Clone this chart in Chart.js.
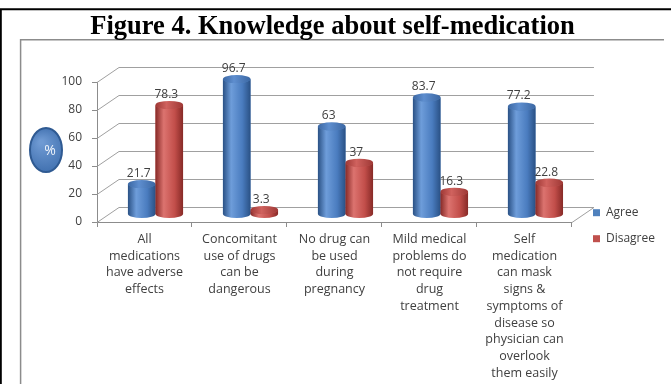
<!DOCTYPE html>
<html>
<head>
<meta charset="utf-8">
<script src="https://cdn.jsdelivr.net/npm/chart.js@4/dist/chart.umd.min.js"></script>
<style>
	html, body { margin: 0; padding: 0; background: #fff; }
	#wrap { width: 671px; height: 384px; }
</style>
</head>
<body>
<div id="wrap"><canvas id="knowledge" width="671" height="384"></canvas></div>
<script>
const categories = [
	['All', 'medications', 'have adverse', 'effects'],
	['Concomitant', 'use of drugs', 'can be', 'dangerous'],
	['No drug can', 'be used', 'during', 'pregnancy'],
	['Mild medical', 'problems do', 'not require', 'drug', 'treatment'],
	['Self', 'medication', 'can mask', 'signs &', 'symptoms of', 'disease so', 'physician can', 'overlook', 'them easily']
]
const agree = [21.7, 96.7, 63, 83.7, 77.2]
const disagree = [78.3, 3.3, 37, 16.3, 22.8]
const yTicks = [0, 20, 40, 60, 80, 100]
const seriesNames = ['Agree', 'Disagree']

// depth of the 3d box, bars stand half way in
const DX = 22, DY = -15
const FONT = 'Open Sans'

const palettes = [
	{ flat: '#4f81bd', dark: '#2a5185', light: '#6e9dda', mid: '#4a7cbf', cap: '#5e8ecf', rim: '#3b67a3' },
	{ flat: '#c0504d', dark: '#872a27', light: '#dc736f', mid: '#c24e4a', cap: '#d0625e', rim: '#9e3835' }
]

let drawFrame = ctx => {
	ctx.save()
	ctx.fillStyle = '#fff'
	ctx.fillRect(0, 0, 671, 384)
	ctx.strokeStyle = '#000'
	ctx.lineWidth = 2
	ctx.beginPath()
	ctx.moveTo(0, 9.3)
	ctx.lineTo(671, 9.3)
	ctx.moveTo(0.8, 9)
	ctx.lineTo(0.8, 384)
	ctx.stroke()
	ctx.strokeStyle = '#8c8c8c'
	ctx.lineWidth = 1.5
	ctx.beginPath()
	ctx.moveTo(20.6, 384)
	ctx.lineTo(20.6, 39.7)
	ctx.lineTo(664, 39.7)
	ctx.stroke()
	ctx.restore()
}

let drawPercent = ctx => {
	let cx = 46, cy = 150
	ctx.save()
	let g = ctx.createRadialGradient(cx - 5, cy - 8, 2, cx, cy, 24)
	g.addColorStop(0, '#6f9ad3')
	g.addColorStop(1, '#3f6fae')
	ctx.fillStyle = g
	ctx.strokeStyle = '#2f5a92'
	ctx.lineWidth = 2
	ctx.beginPath()
	ctx.ellipse(cx, cy, 16, 22, 0, 0, Math.PI * 2)
	ctx.fill()
	ctx.stroke()
	ctx.fillStyle = '#eef3fa'
	ctx.font = '14px "' + FONT + '"'
	ctx.textAlign = 'center'
	ctx.textBaseline = 'middle'
	ctx.fillText('%', cx + 4, cy + 1)
	ctx.restore()
}

let drawCylinder = (ctx, p, pal) => {
	let w = p.width, x0 = p.x - w / 2, x1 = p.x + w / 2, r = w / 2, ry = 4
	let g = ctx.createLinearGradient(x0, 0, x1, 0)
	g.addColorStop(0, pal.dark)
	g.addColorStop(0.3, pal.light)
	g.addColorStop(0.7, pal.mid)
	g.addColorStop(1, pal.dark)
	ctx.fillStyle = g
	ctx.beginPath()
	ctx.moveTo(x0, p.y)
	ctx.lineTo(x0, p.base)
	ctx.ellipse(p.x, p.base, r, ry, 0, Math.PI, 0, true)
	ctx.lineTo(x1, p.y)
	ctx.ellipse(p.x, p.y, r, ry, 0, 0, Math.PI, false)
	ctx.closePath()
	ctx.fill()
	// top face
	let t = ctx.createLinearGradient(x0, 0, x1, 0)
	t.addColorStop(0, pal.rim)
	t.addColorStop(0.4, pal.cap)
	t.addColorStop(1, pal.rim)
	ctx.fillStyle = t
	ctx.beginPath()
	ctx.ellipse(p.x, p.y, r, ry, 0, 0, Math.PI * 2)
	ctx.fill()
}

let box3d = {
	id: 'box3d',
	beforeDraw: chart => {
		drawFrame(chart.ctx)
		drawPercent(chart.ctx)
	},
	beforeDatasetsDraw: chart => {
		let { ctx, chartArea: a, scales: { y } } = chart
		ctx.save()
		ctx.strokeStyle = '#a0a0a0'
		ctx.lineWidth = 1
		yTicks.forEach(v => {
			let py = Math.round(y.getPixelForValue(v)) + 0.5
			ctx.beginPath()
			ctx.moveTo(a.left, py)
			ctx.lineTo(a.left + DX, py + DY)
			ctx.lineTo(a.right + DX, py + DY)
			if (v === 0) ctx.lineTo(a.right, py)
			ctx.stroke()
		})
		ctx.restore()
		ctx.save()
		ctx.translate(DX / 2, DY / 2)
	},
	afterDatasetsDraw: chart => {
		let ctx = chart.ctx
		let bars = []
		chart.data.datasets.forEach((ds, di) => {
			chart.getDatasetMeta(di).data.forEach((el, i) => {
				let p = el.getProps(['x', 'y', 'base', 'width'], true)
				drawCylinder(ctx, p, palettes[di])
				bars.push({ p, v: ds.data[i] })
			})
		})
		ctx.fillStyle = '#404040'
		ctx.font = '12px "' + FONT + '"'
		ctx.textAlign = 'center'
		ctx.textBaseline = 'middle'
		bars.forEach(b => ctx.fillText(String(b.v), b.p.x - 3, b.p.y - 10.5))
		ctx.restore()
	}
}

new Chart(document.getElementById('knowledge'), {
	type: 'bar',
	data: {
		labels: categories,
		datasets: [
			{ label: seriesNames[0], data: agree, backgroundColor: palettes[0].flat, borderWidth: 0, clip: false },
			{ label: seriesNames[1], data: disagree, backgroundColor: palettes[1].flat, borderWidth: 0, clip: false }
		]
	},
	options: {
		responsive: false,
		animation: false,
		events: [],
		categoryPercentage: 0.58,
		barPercentage: 1,
		layout: { padding: { left: 0, right: 6, top: 0, bottom: 0 } },
		scales: {
			x: {
				grid: { display: true, drawOnChartArea: false, tickLength: 5, color: '#8c8c8c' },
				border: { display: true, color: '#8c8c8c' },
				ticks: {
					maxRotation: 0, minRotation: 0, autoSkip: false, padding: 4,
					color: '#404040', font: { family: FONT, size: 12.5, lineHeight: 1.34 }
				},
				afterFit: s => { s.height = 162 }
			},
			y: {
				min: 0, max: 100,
				afterBuildTicks: s => { s.ticks = yTicks.map(v => ({ value: v })) },
				grid: { display: true, drawOnChartArea: false, tickLength: 5, color: '#8c8c8c' },
				border: { display: true, color: '#8c8c8c' },
				ticks: { padding: 10, color: '#404040', font: { family: FONT, size: 12 } },
				afterFit: s => { s.width = 97 }
			},
			gap: {
				type: 'linear', position: 'right', display: true,
				grid: { display: false }, border: { display: false }, ticks: { display: false },
				afterFit: s => { s.width = 7 }
			}
		},
		plugins: {
			title: {
				display: true,
				text: 'Figure 4. Knowledge about self-medication',
				color: '#000',
				font: { family: 'Liberation Serif', size: 26.5, weight: 'bold' },
				padding: { top: 11.5, bottom: 38.7 }
			},
			legend: {
				position: 'right',
				title: { display: true, text: '', font: { size: 12 }, padding: { top: 53, bottom: 0 } },
				labels: {
					boxWidth: 7, boxHeight: 7, padding: 14,
					color: '#404040', font: { family: FONT, size: 12 }
				}
			},
			tooltip: { enabled: false }
		}
	},
	plugins: [box3d]
})
</script>
</body>
</html>
